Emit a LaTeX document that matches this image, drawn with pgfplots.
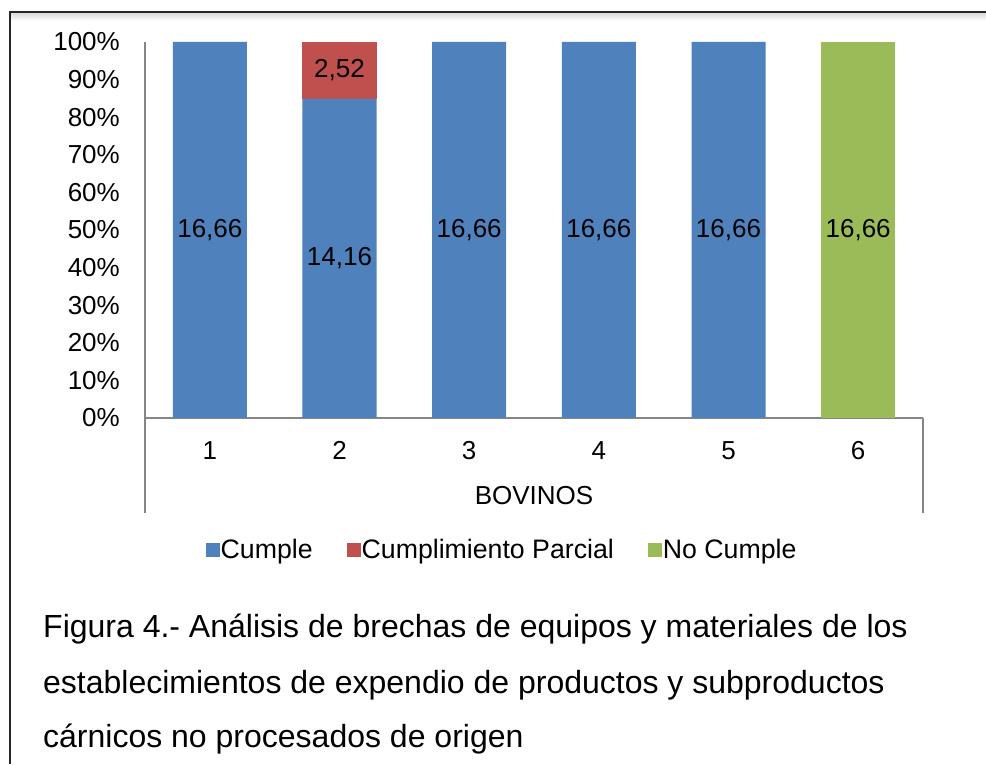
\documentclass[border=0pt]{standalone}
\usepackage{fontspec}
\setmainfont{Liberation Sans}
\usepackage{pgfplots}
\pgfplotsset{compat=1.18}
\usepackage{pgfplotstable}

\definecolor{cumple}{HTML}{4F81BD}
\definecolor{parcial}{HTML}{C0504D}
\definecolor{nocumple}{HTML}{9BBB59}
\definecolor{axisgray}{HTML}{868686}

% Puntaje por establecimiento: c = cumple, p = cumplimiento parcial, n = no cumple
\pgfplotstableread{
id c     p    n
1  16.66 0    0
2  14.16 2.52 0
3  16.66 0    0
4  16.66 0    0
5  16.66 0    0
6  0     0    16.66
}\bovinos

% stacked segment normalised to 100 %, labelled with its raw value
\pgfplotsset{
  segment/.style={
    ybar stacked, draw=none, fill=#1,
    point meta=explicit,
    legend image code/.code={\fill[#1] (0pt,-7pt) rectangle (14pt,7pt);},
    nodes near coords={\pgfmathfloatifflags{\pgfplotspointmeta}{0}{}{\pgfmathprintnumber{\pgfplotspointmeta}}},
    every node near coord/.append style={anchor=center, inner sep=0pt, text=black,
      font=\fontsize{26}{30}\selectfont},
  },
}

\begin{document}
\begin{tikzpicture}
\useasboundingbox (0pt,0pt) rectangle (986pt,764pt);
\fill[white] (0pt,0pt) rectangle (986pt,764pt);
% frame
\shade[top color=black!14, bottom color=white] (11pt,751pt) rectangle (986pt,743pt);
\draw[line width=2.5pt, black!85] (10pt,0pt) -- (10pt,752pt) -- (986pt,752pt);

\begin{axis}[
  at={(145pt,346pt)}, anchor=south west,
  scale only axis, width=778pt, height=376pt,
  ybar stacked, bar width=74pt,
  xmin=0.5, xmax=6.5, ymin=0, ymax=100,
  enlargelimits=false,
  axis x line*=bottom, axis y line*=left,
  axis line style={-, axisgray, line width=1.5pt},
  xtick=data, xticklabels={1,2,3,4,5,6},
  ytick={0,10,...,100},
  yticklabel={\pgfmathprintnumber{\tick}\%},
  major tick length=0pt,
  tick style={draw=none},
  /pgf/number format/assume math mode=true,
  /pgf/number format/.cd, use comma, fixed, fixed zerofill, precision=2, /pgfplots/.cd,
  yticklabel style={anchor=east, inner sep=0pt, xshift=-25pt,
    font=\fontsize{26}{30}\selectfont, /pgf/number format/precision=0, /pgf/number format/fixed zerofill=false},
  xticklabel style={anchor=north, inner sep=0pt, yshift=-23pt, font=\fontsize{26}{30}\selectfont},
  legend style={at={(0.4583,-0.351)}, anchor=center, draw=none, fill=none,
    font=\fontsize{26.7}{30}\selectfont,
    nodes={inner sep=1pt},
    /tikz/every even column/.append style={column sep=33pt}},
  legend columns=3,
  clip=false,
]
\addplot+[segment=cumple]
  table[x=id, y expr={100*\thisrow{c}/(\thisrow{c}+\thisrow{p}+\thisrow{n})}, meta=c] {\bovinos};
\addlegendentry{Cumple}
\addplot+[segment=parcial]
  table[x=id, y expr={100*\thisrow{p}/(\thisrow{c}+\thisrow{p}+\thisrow{n})}, meta=p] {\bovinos};
\addlegendentry{Cumplimiento Parcial}
\addplot+[segment=nocumple]
  table[x=id, y expr={100*\thisrow{n}/(\thisrow{c}+\thisrow{p}+\thisrow{n})}, meta=n] {\bovinos};
\addlegendentry{No Cumple}

% category group bracket
\draw[axisgray, line width=1.5pt] (rel axis cs:0,0) -- ++(0pt,-95pt);
\draw[axisgray, line width=1.5pt] (rel axis cs:1,0) -- ++(0pt,-95pt);
\node[anchor=base, inner sep=0pt, yshift=-86pt, font=\fontsize{26}{30}\selectfont]
  at (rel axis cs:0.5,0) {BOVINOS};
\end{axis}

% caption
\begin{scope}[every node/.style={anchor=base west, inner sep=0pt, font=\fontsize{32}{40}\selectfont}]
\node at (43pt,127pt) {Figura 4.- Análisis de brechas de equipos y materiales de los};
\node at (43pt,71pt) {establecimientos de expendio de productos y subproductos};
\node at (43pt,17pt) {cárnicos no procesados de origen};
\end{scope}
\end{tikzpicture}
\end{document}
